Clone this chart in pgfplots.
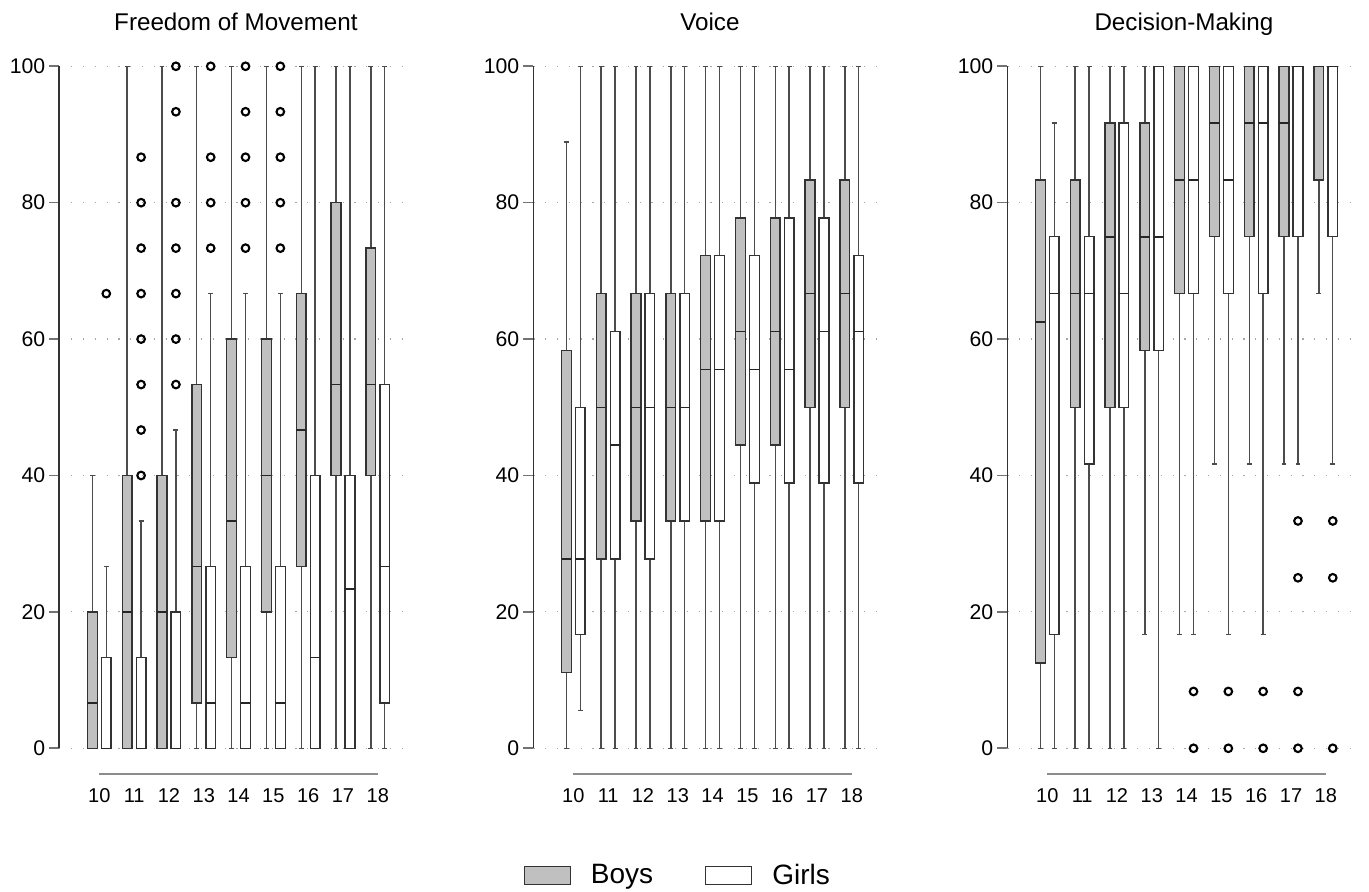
\documentclass[border=0pt]{standalone}
\usepackage{fontspec}
\setmainfont{Liberation Sans}
\usepackage{pgfplots}
\pgfplotsset{compat=1.18}
\usepgfplotslibrary{statistics}
\definecolor{boxgray}{RGB}{192,192,192}

\pgfplotsset{
 panel/.style={
  width=176.65pt, height=341pt, scale only axis,
  xmin=8.85, xmax=19.0, ymin=0, ymax=100,
  axis lines*=left,
  x axis line style={draw=none},
  y axis line style={black!80, line width=0.8pt},
  xtick={10,...,18}, ytick={0,20,...,100},
  /pgf/number format/assume math mode=true,
  x tick style={draw=none},
  y tick style={black!55, line width=0.8pt},
  tick align=outside,
  major tick length=5pt,
  yticklabel style={font=\fontsize{10.6}{12}\selectfont, xshift=1.5pt},
  xticklabel style={font=\fontsize{10}{11}\selectfont, anchor=base, yshift=-22pt},
  ymajorgrids, major grid style={gray!70, line width=0.6pt, dash pattern=on 0.6pt off 5.3pt},
  clip=false,
  title style={font=\fontsize{12.1}{14}\selectfont, at={(0.5,1)}, anchor=base, yshift=12pt},
  boxplot/draw direction=y,
  boxplot/box extend=0.28,
  boxplot/whisker extend=0.14,
  boxplot/every whisker/.style={black!70, line width=0.7pt},
  boxplot/every median/.style={black!85, line width=0.75pt},
 },
 boys/.style={fill=boxgray, draw=black!80, line width=0.7pt},
 girls/.style={fill=white, draw=black!80, line width=0.7pt},
 outl/.style={only marks, mark=o, mark size=1.9pt, mark options={line width=1.05pt, black}},
}
% #1 style, #2 position, #3 lower whisker, #4 lower quartile, #5 median, #6 upper quartile, #7 upper whisker
\newcommand{\bx}[7]{\addplot[#1, boxplot prepared={draw position=#2, lower whisker=#3, lower quartile=#4, median=#5, upper quartile=#6, upper whisker=#7}] coordinates {};}

\begin{document}
\begin{tikzpicture}
\useasboundingbox (0,0) rectangle (684.5pt,446pt);

% ---------------- Freedom of Movement ----------------
\begin{axis}[panel, at={(29.65pt,71.85pt)}, anchor=south west, title={Freedom of Movement}]
\bx{boys}{9.8}{0}{0}{6.667}{20}{40}
\bx{girls}{10.2}{0}{0}{0}{13.333}{26.667}
\bx{boys}{10.8}{0}{0}{20}{40}{100}
\bx{girls}{11.2}{0}{0}{0}{13.333}{33.333}
\bx{boys}{11.8}{0}{0}{20}{40}{100}
\bx{girls}{12.2}{0}{0}{0}{20}{46.667}
\bx{boys}{12.8}{0}{6.667}{26.667}{53.333}{100}
\bx{girls}{13.2}{0}{0}{6.667}{26.667}{66.667}
\bx{boys}{13.8}{0}{13.333}{33.333}{60}{100}
\bx{girls}{14.2}{0}{0}{6.667}{26.667}{66.667}
\bx{boys}{14.8}{0}{20}{40}{60}{100}
\bx{girls}{15.2}{0}{0}{6.667}{26.667}{66.667}
\bx{boys}{15.8}{0}{26.667}{46.667}{66.667}{100}
\bx{girls}{16.2}{0}{0}{13.333}{40}{100}
\bx{boys}{16.8}{0}{40}{53.333}{80}{100}
\bx{girls}{17.2}{0}{0}{23.333}{40}{100}
\bx{boys}{17.8}{0}{40}{53.333}{73.333}{100}
\bx{girls}{18.2}{0}{6.667}{26.667}{53.333}{100}
\addplot[outl] coordinates {
(10.2,66.667)
(11.2,40) (11.2,46.667) (11.2,53.333) (11.2,60) (11.2,66.667) (11.2,73.333) (11.2,80) (11.2,86.667)
(12.2,53.333) (12.2,60) (12.2,66.667) (12.2,73.333) (12.2,80) (12.2,93.333) (12.2,100)
(13.2,73.333) (13.2,80) (13.2,86.667) (13.2,100)
(14.2,73.333) (14.2,80) (14.2,86.667) (14.2,93.333) (14.2,100)
(15.2,73.333) (15.2,80) (15.2,86.667) (15.2,93.333) (15.2,100)
};
\draw[black!45, line width=1pt] (axis cs:10,-3.8) -- (axis cs:18,-3.8);
\end{axis}

% ---------------- Voice ----------------
\begin{axis}[panel, at={(266.65pt,71.85pt)}, anchor=south west, title={Voice},
  legend columns=2,
  legend style={draw=none, at={(0.412,-0.187)}, anchor=center, font=\fontsize{14}{16}\selectfont,
    /tikz/every odd column/.append style={column sep=8pt},
    /tikz/every even column/.append style={column sep=24pt}},
  legend cell align=left]
\addlegendimage{legend image code/.code={\draw[fill=boxgray,draw=black!80,line width=0.6pt] (0pt,-4.5pt) rectangle (23pt,4.5pt);}}
\addlegendentry{Boys}
\addlegendimage{legend image code/.code={\draw[fill=white,draw=black!80,line width=0.6pt] (0pt,-4.5pt) rectangle (23pt,4.5pt);}}
\addlegendentry{Girls}
\bx{boys}{9.8}{0}{11.111}{27.778}{58.333}{88.889}
\bx{girls}{10.2}{5.556}{16.667}{27.778}{50}{100}
\bx{boys}{10.8}{0}{27.778}{50}{66.667}{100}
\bx{girls}{11.2}{0}{27.778}{44.444}{61.111}{100}
\bx{boys}{11.8}{0}{33.333}{50}{66.667}{100}
\bx{girls}{12.2}{0}{27.778}{50}{66.667}{100}
\bx{boys}{12.8}{0}{33.333}{50}{66.667}{100}
\bx{girls}{13.2}{0}{33.333}{50}{66.667}{100}
\bx{boys}{13.8}{0}{33.333}{55.556}{72.222}{100}
\bx{girls}{14.2}{0}{33.333}{55.556}{72.222}{100}
\bx{boys}{14.8}{0}{44.444}{61.111}{77.778}{100}
\bx{girls}{15.2}{0}{38.889}{55.556}{72.222}{100}
\bx{boys}{15.8}{0}{44.444}{61.111}{77.778}{100}
\bx{girls}{16.2}{0}{38.889}{55.556}{77.778}{100}
\bx{boys}{16.8}{0}{50}{66.667}{83.333}{100}
\bx{girls}{17.2}{0}{38.889}{61.111}{77.778}{100}
\bx{boys}{17.8}{0}{50}{66.667}{83.333}{100}
\bx{girls}{18.2}{0}{38.889}{61.111}{72.222}{100}
\draw[black!45, line width=1pt] (axis cs:10,-3.8) -- (axis cs:18,-3.8);
\end{axis}

% ---------------- Decision-Making ----------------
\begin{axis}[panel, at={(503.65pt,71.85pt)}, anchor=south west, title={Decision-Making}]
\bx{boys}{9.8}{0}{12.5}{62.5}{83.333}{100}
\bx{girls}{10.2}{0}{16.667}{66.667}{75}{91.667}
\bx{boys}{10.8}{0}{50}{66.667}{83.333}{100}
\bx{girls}{11.2}{0}{41.667}{66.667}{75}{100}
\bx{boys}{11.8}{0}{50}{75}{91.667}{100}
\bx{girls}{12.2}{0}{50}{66.667}{91.667}{100}
\bx{boys}{12.8}{16.667}{58.333}{75}{91.667}{100}
\bx{girls}{13.2}{0}{58.333}{75}{100}{100}
\bx{boys}{13.8}{16.667}{66.667}{83.333}{100}{100}
\bx{girls}{14.2}{16.667}{66.667}{83.333}{100}{100}
\bx{boys}{14.8}{41.667}{75}{91.667}{100}{100}
\bx{girls}{15.2}{16.667}{66.667}{83.333}{100}{100}
\bx{boys}{15.8}{41.667}{75}{91.667}{100}{100}
\bx{girls}{16.2}{16.667}{66.667}{91.667}{100}{100}
\bx{boys}{16.8}{41.667}{75}{91.667}{100}{100}
\bx{girls}{17.2}{41.667}{75}{100}{100}{100}
\bx{boys}{17.8}{66.667}{83.333}{100}{100}{100}
\bx{girls}{18.2}{41.667}{75}{100}{100}{100}
\addplot[outl] coordinates {
(14.2,0) (14.2,8.333)
(15.2,0) (15.2,8.333)
(16.2,0) (16.2,8.333)
(17.2,0) (17.2,8.333) (17.2,25) (17.2,33.333)
(18.2,0) (18.2,25) (18.2,33.333)
};
\draw[black!45, line width=1pt] (axis cs:10,-3.8) -- (axis cs:18,-3.8);
\end{axis}
\end{tikzpicture}
\end{document}
